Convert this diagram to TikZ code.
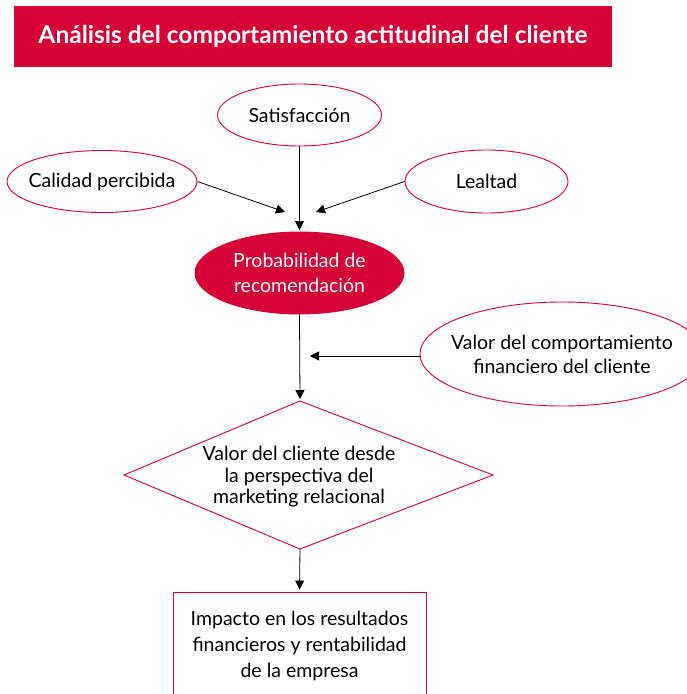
\documentclass[tikz,border=0pt]{standalone}
\usepackage{fontspec}
\setmainfont{Lato}
\usetikzlibrary{shapes.geometric,arrows.meta}
\definecolor{crim}{RGB}{213,0,54}
\begin{document}
\begin{tikzpicture}[x=1pt,y=-1pt,
  oval/.style={ellipse,draw=crim,line width=0.9pt,inner xsep=-45pt,inner ysep=-35pt,align=center,
    font=\fontsize{19.5}{25.5}\selectfont},
  conn/.style={line width=0.8pt,-{Triangle[length=9pt,width=9pt]}}]
\useasboundingbox (0,0) rectangle (687,694);
\clip (0,0) rectangle (687,694);
% title
\node[fill=crim,minimum width=598pt,minimum height=61pt,inner sep=0pt,text=white,
  font=\bfseries\fontsize{24.5}{28}\selectfont] (title) at (313,36.5)
  {Análisis del comportamiento actitudinal del cliente};
% ellipses
\node[oval,minimum width=164pt,minimum height=62pt] (sat) at (299.5,115) {Satisfacción};
\node[oval,minimum width=190pt,minimum height=62pt] (cal) at (102,181.5) {Calidad percibida};
\node[oval,minimum width=163pt,minimum height=63pt] (leal) at (486.5,181.5) {Lealtad};
\node[oval,fill=crim,text=white,minimum width=209pt,minimum height=82pt] (prob) at (299.5,273)
  {Probabilidad de\\recomendación};
\node[oval,minimum width=284pt,minimum height=104pt,font=\fontsize{19.5}{24}\selectfont] (valfin) at (562,354)
  {Valor del comportamiento\\financiero del cliente};
% diamond
\coordinate (dtop) at (300,401);
\coordinate (dleft) at (124,475);
\coordinate (dright) at (493,475);
\coordinate (dbot) at (300,549);
\draw[crim,line width=0.9pt] (dtop) -- (dright) -- (dbot) -- (dleft) -- cycle;
\node[align=center,font=\fontsize{19.5}{21.5}\selectfont] (valcli) at (299,477)
  {Valor del cliente desde\\la perspectiva del\\marketing relacional};
% bottom box
\node[draw=crim,line width=0.9pt,minimum width=253pt,minimum height=108pt,inner sep=0pt,
  align=center,font=\fontsize{19.5}{26}\selectfont] (imp) at (299.5,646)
  {Impacto en los resultados\\financieros y rentabilidad\\de la empresa};
% free ends
\coordinate (calend) at (285,212);
\coordinate (lealend) at (316,212);
\coordinate (valend) at (310,356);
% connectors
\draw[conn,shorten >=1.5pt] (sat.south) -- (prob.north);
\draw[conn] (cal.east) -- (calend);
\draw[conn] (leal.west) -- (lealend);
\draw[conn,shorten >=2pt] (prob.south) -- (dtop);
\draw[conn] (valfin.west |- valend) -- (valend);
\draw[conn,shorten >=2pt] (dbot) -- (imp.north);
\end{tikzpicture}
\end{document}
